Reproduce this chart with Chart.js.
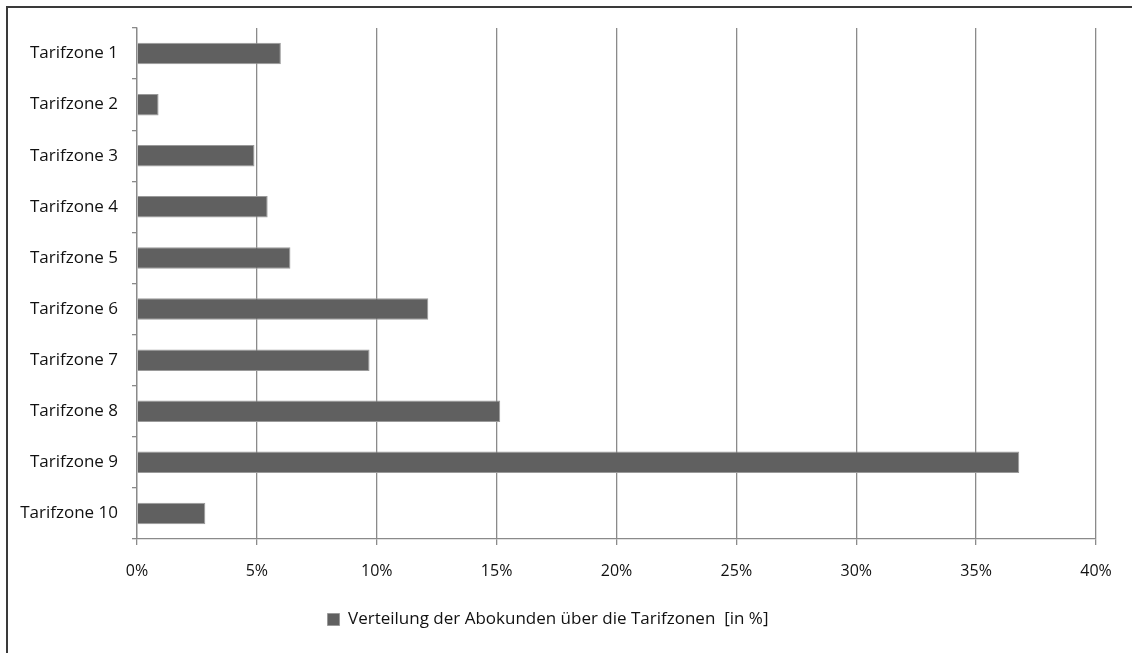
<!DOCTYPE html>
<html>
<head>
<meta charset="utf-8">
<script src="https://cdn.jsdelivr.net/npm/chart.js@4/dist/chart.umd.min.js"></script>
<style>
  html, body { margin: 0; padding: 0; background: #fff; overflow: hidden; }
  #wrap { position: relative; width: 1132px; height: 653px; }
  /* Excel-style frame, cut off at right and bottom like the screenshot */
  #frame { position: absolute; left: 6px; top: 6px; width: 1140px; height: 660px;
           border: 2px solid #3a3a3a; box-sizing: border-box; }
  canvas { position: absolute; left: 0; top: 0; }
</style>
</head>
<body>
<div id="wrap">
  <div id="frame"></div>
  <canvas id="chart" width="1132" height="653"></canvas>
</div>
<script>
// data
const zones = ['Tarifzone 1', 'Tarifzone 2', 'Tarifzone 3', 'Tarifzone 4', 'Tarifzone 5',
               'Tarifzone 6', 'Tarifzone 7', 'Tarifzone 8', 'Tarifzone 9', 'Tarifzone 10'];
const shares = [6.0, 0.9, 4.9, 5.45, 6.4, 12.15, 9.7, 15.15, 36.8, 2.85];
const seriesName = 'Verteilung der Abokunden über die Tarifzonen  [in %]';

const gridGrey = '#8a8a8a';
const barGrey = '#606060';
const textCol = '#111';
const fontFam = "'Open Sans', 'Liberation Sans', sans-serif";

const ctx = document.getElementById('chart').getContext('2d');
new Chart(ctx, {
    type: 'bar',
    data: {
        labels: zones,
        datasets: [{
            label: seriesName,
            data: shares,
            backgroundColor: barGrey,
            borderColor: '#9a9a9a',
            borderWidth: 1,
            categoryPercentage: 0.42,
            barPercentage: 1
        }]
    },
    options: {
        indexAxis: 'y', // horizontal bars
        responsive: false,
        animation: false,
        layout: { padding: { top: 28, right: 36, left: 0, bottom: 15 } },
        plugins: {
            tooltip: { enabled: false },
            legend: {
                position: 'bottom',
                labels: {
                    color: textCol,
                    font: { family: fontFam, size: 17 },
                    boxWidth: 12,
                    boxHeight: 12,
                    padding: 10
                }
            }
        },
        scales: {
            x: {
                min: 0,
                max: 40,
                ticks: {
                    stepSize: 5,
                    color: textCol,
                    padding: 17,
                    font: { family: fontFam, size: 16 },
                    callback: v => v + '%'
                },
                grid: { color: gridGrey, lineWidth: 1.3, tickLength: 6 },
                border: { color: gridGrey, width: 1.3 },
                afterFit: s => { s.height = 62; }
            },
            y: {
                ticks: {
                    color: textCol,
                    padding: 14,
                    font: { family: fontFam, size: 17 }
                },
                grid: { drawOnChartArea: false, color: gridGrey, lineWidth: 1.3, tickLength: 5, offset: true },
                border: { color: gridGrey, width: 1.3 },
                afterFit: s => { s.width = 137; }
            }
        }
    }
});
</script>
</body>
</html>
